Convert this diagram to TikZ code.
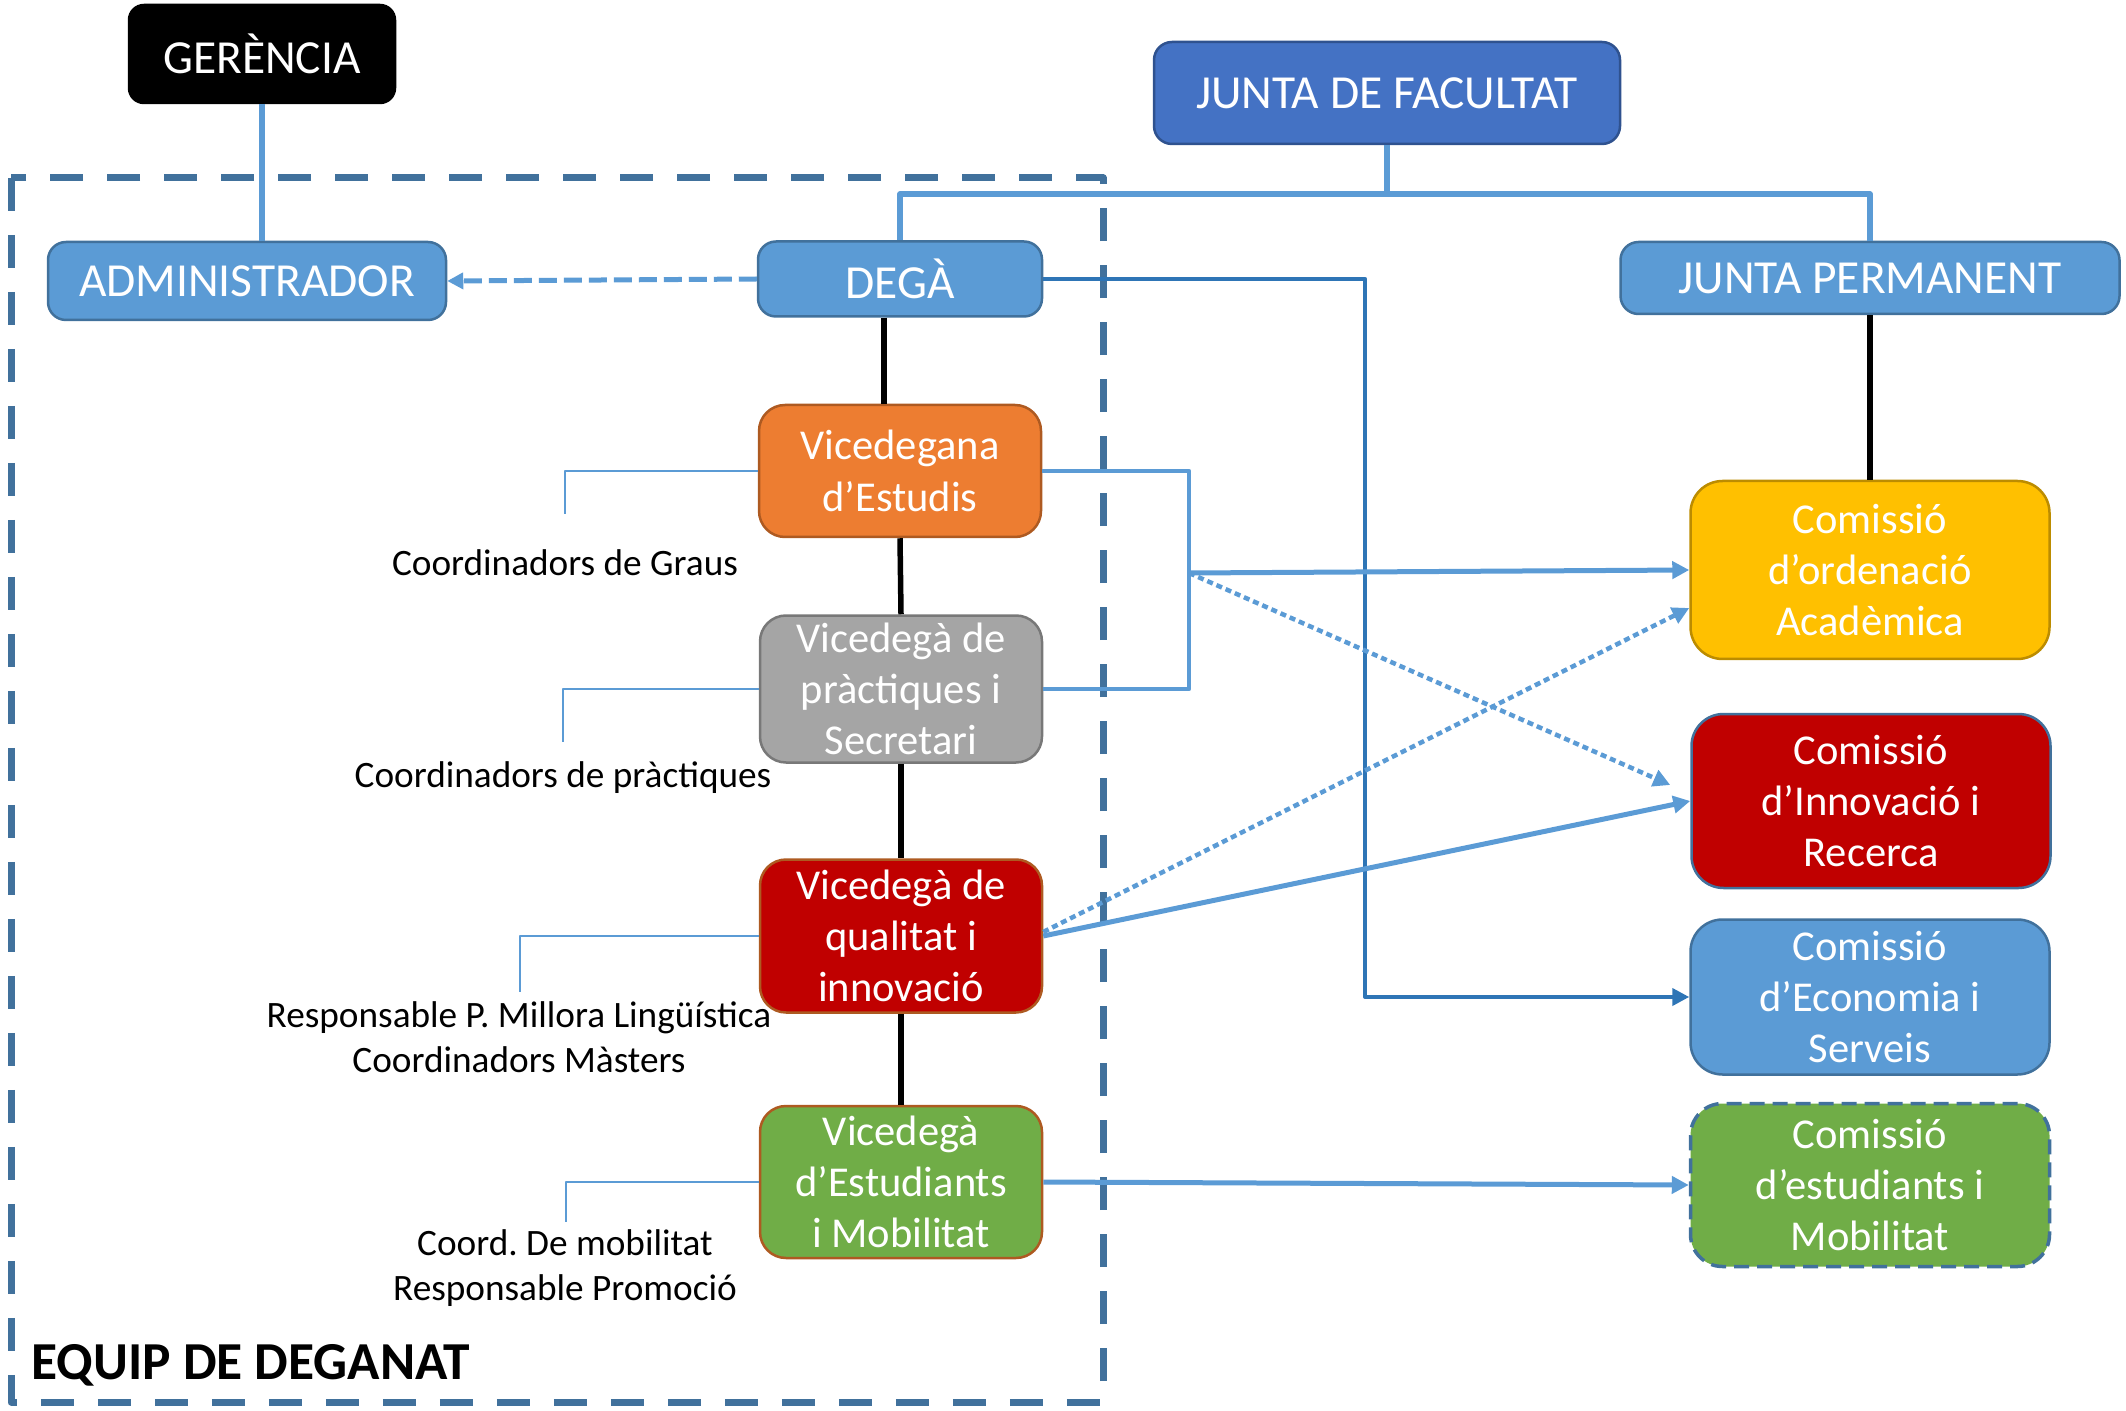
\documentclass[tikz,border=0pt]{standalone}
\usepackage{fontspec}
\setmainfont{Carlito}
\usetikzlibrary{arrows.meta,calc}
\frenchspacing

\definecolor{lblue}{RGB}{91,155,213}
\definecolor{dblue}{RGB}{65,113,156}
\definecolor{mblue}{RGB}{46,117,182}
\definecolor{jblue}{RGB}{68,114,196}
\definecolor{jborder}{RGB}{47,82,143}
\definecolor{orangefill}{RGB}{237,125,49}
\definecolor{orangeline}{RGB}{174,90,33}
\definecolor{grayfill}{RGB}{165,165,165}
\definecolor{grayline}{RGB}{120,120,120}
\definecolor{redfill}{RGB}{192,0,0}
\definecolor{yellowfill}{RGB}{255,192,0}
\definecolor{yellowline}{RGB}{188,140,0}
\definecolor{greenfill}{RGB}{112,173,71}

\begin{document}
\begin{tikzpicture}[x=0.1mm, y=-0.1mm, line join=round,
	box/.style={draw=dblue, line width=0.25mm, rounded corners=1.8mm, text=white, align=center, inner sep=0pt, font=\fontsize{13.5}{14.6}\selectfont},
	vice/.style={box, rounded corners=2.6mm, minimum width=28.2mm, font=\fontsize{12.1}{14.6}\selectfont},
	comm/.style={box, rounded corners=3.2mm, minimum width=35.9mm, font=\fontsize{12.1}{14.6}\selectfont},
	note/.style={align=center, inner sep=0pt, font=\fontsize{10.6}{12.8}\selectfont},
	tick/.style={lblue, line width=0.15mm},
	bus/.style={lblue, line width=0.6mm},
	chain/.style={black, line width=0.55mm},
	link/.style={lblue, line width=0.5mm, -{Triangle[length=1.7mm, width=1.7mm]}},
	dotlink/.style={lblue, line width=0.45mm, dash pattern=on 0.6mm off 0.4mm, -{Triangle[length=1.7mm, width=1.7mm]}},
	dashlink/.style={lblue, line width=0.5mm, dash pattern=on 1.8mm off 0.7mm, -{Triangle[length=1.6mm, width=1.6mm]}},
	ecolink/.style={mblue, line width=0.4mm, -{Triangle[length=1.7mm, width=1.7mm]}}]
	\useasboundingbox (0,0) rectangle (2126,1411);
	\draw[dblue, line width=0.7mm, dash pattern=on 3.3mm off 2.4mm] (11,178) rectangle (1103,1402);
	\node[box, draw=black, fill=black, rounded corners=1.5mm, minimum width=26.6mm, minimum height=9.8mm] (ger) at (262,54) {GERÈNCIA};
	\node[box, fill=jblue, draw=jborder, minimum width=46.6mm, minimum height=10.2mm] (jf) at (1387,93) {JUNTA DE FACULTAT};
	\node[box, fill=lblue, minimum width=39.8mm, minimum height=7.8mm] (adm) at (247,281) {ADMINISTRADOR};
	\node[box, fill=lblue, minimum width=28.4mm, minimum height=7.5mm] (dega) at (900,279) {DEGÀ};
	\node[box, fill=lblue, minimum width=49.9mm, minimum height=7.2mm] (jp) at (1870,278) {JUNTA PERMANENT};
	\node[vice, fill=orangefill, draw=orangeline, minimum height=13.2mm] (vest) at (900,471) {Vicedegana\\d’Estudis};
	\node[vice, fill=grayfill, draw=grayline, minimum height=14.7mm] (vprac) at (901,689) {Vicedegà de\\pràctiques i\\Secretari};
	\node[vice, fill=redfill, draw=orangeline, minimum height=15.3mm] (vqual) at (901,936) {Vicedegà de\\qualitat i\\innovació};
	\node[vice, fill=greenfill, draw=orangeline, minimum height=15.2mm] (vmob) at (901,1182) {Vicedegà\\d’Estudiants\\i Mobilitat};
	\node[comm, fill=yellowfill, draw=yellowline, minimum height=17.8mm] (cord) at (1870,570) {Comissió\\d’ordenació\\Acadèmica};
	\node[comm, fill=redfill, minimum height=17.4mm] (cinn) at (1871,801) {Comissió\\d’Innovació i\\Recerca};
	\node[comm, fill=lblue, minimum height=15.5mm] (ceco) at (1870,997) {Comissió\\d’Economia i\\Serveis};
	\node[comm, fill=greenfill, line width=0.35mm, dash pattern=on 1.5mm off 0.8mm, minimum height=16.3mm] (cest) at (1870,1185) {Comissió\\d’estudiants i\\Mobilitat};
	\node[note] (ngraus) at (565,563) {Coordinadors de Graus};
	\node[note] (nprac) at (563,778) {Coordinadors de pràctiques};
	\node[note] (nqual) at (519,1037) {Responsable P. Millora Lingüística\\Coordinadors Màsters};
	\node[note] (nmob) at (565,1268) {Coord. De mobilitat\\Responsable Promoció};
	\node[anchor=base west, inner sep=0pt, font=\fontsize{15.2}{18}\selectfont\bfseries] (equip) at (31,1379) {EQUIP DE DEGANAT};
	\coordinate (tgraus) at (565,514);
	\coordinate (tprac) at (563,742);
	\coordinate (tqual) at (520,992);
	\coordinate (tmob) at (566,1222);
	\coordinate (bus) at ([yshift=-4.9mm]jf.south);
	\coordinate (rail) at (1189,573);
	\draw[tick] (vest.west) -| (tgraus);
	\draw[tick] (vprac.west) -| (tprac);
	\draw[tick] (vqual.west) -| (tqual);
	\draw[tick] (vmob.west) -| (tmob);
	\draw[bus] (ger.south) -- (ger.south |- adm.north);
	\draw[bus] (jf.south) -- (bus);
	\draw[bus] (dega.north) |- (bus) -| (jp.north);
	\draw[dashlink] (dega.west) -- (adm.east);
	\draw[chain] ([xshift=-1.6mm]dega.south) -- ([xshift=-1.6mm]dega.south |- vest.north);
	\draw[chain] (vest.south) -- (vprac.north);
	\draw[chain] (vprac.south) -- (vqual.north);
	\draw[chain] (vqual.south) -- (vmob.north);
	\draw[chain] (jp.south) -- (cord.north);
	\draw[ecolink] (dega.east) -| ([xshift=-32.4mm]ceco.west) -- (ceco.west);
	\draw[bus, line width=0.45mm] (vest.east) -| (rail) |- (vprac.east);
	\draw[link] (rail) -- (cord.west);
	\draw[dotlink] (rail) -- ([xshift=-2mm, yshift=1.6mm]cinn.west);
	\draw[link] (vqual.east) -- (cinn.west);
	\draw[dotlink] ([yshift=0.4mm]vqual.east) -- ([yshift=-3.8mm]cord.west);
	\draw[link] (vmob.east) -- (cest.west);
\end{tikzpicture}
\end{document}
